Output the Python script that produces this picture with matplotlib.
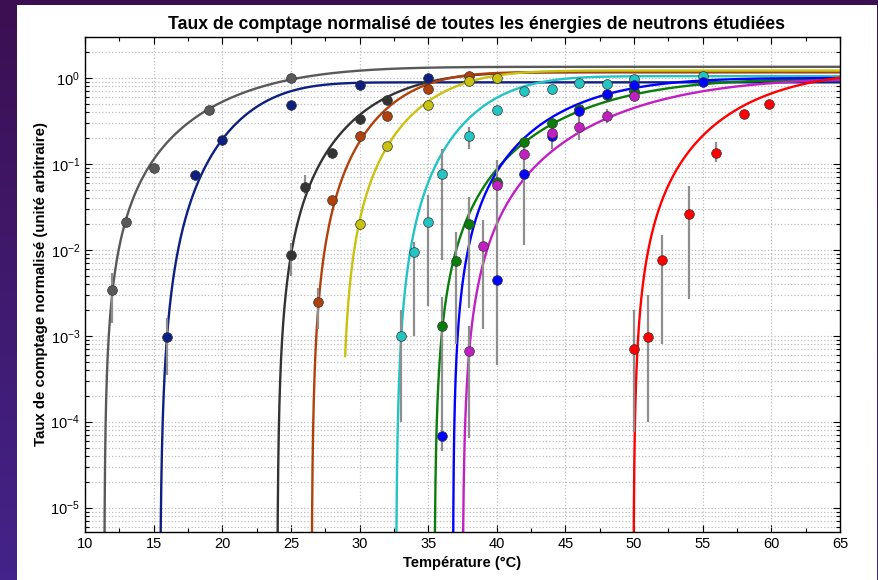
import numpy as np
import matplotlib
matplotlib.use('Agg')
import matplotlib.pyplot as plt
from matplotlib.patches import Rectangle
from matplotlib.colors import LinearSegmentedColormap
from matplotlib.ticker import LogLocator, MultipleLocator, NullFormatter

plt.rcParams['font.family'] = ['Liberation Sans', 'DejaVu Sans']
plt.rcParams['mathtext.default'] = 'regular'

# measured points, one list per neutron energy
names = ['gris', 'marine', 'noir', 'brun', 'jaune', 'cyan', 'vert', 'bleu', 'magenta', 'rouge']
colors = ['#595959', '#0d2080', '#333333', '#b0400c', '#c9c20f',
          '#22c4c4', '#0a7d0a', '#0000ff', '#c21fc2', '#ff0000']

temp_gris = [12, 13, 15, 19, 25]
taux_gris = [0.0034, 0.021, 0.09, 0.42, 1.0]
temp_marine = [16, 18, 20, 25, 30, 35]
taux_marine = [0.00098, 0.074, 0.19, 0.49, 0.84, 1.0]
temp_noir = [25, 26, 28, 30, 32]
taux_noir = [0.0088, 0.054, 0.133, 0.33, 0.56]
temp_brun = [27, 28, 30, 32, 35, 38]
taux_brun = [0.0025, 0.038, 0.21, 0.36, 0.74, 1.05]
temp_jaune = [30, 32, 35, 38, 40]
taux_jaune = [0.020, 0.16, 0.48, 0.93, 1.0]
temp_cyan = [33, 34, 35, 36, 38, 40, 42, 44, 46, 48, 50, 55]
taux_cyan = [0.001, 0.0095, 0.021, 0.076, 0.21, 0.42, 0.70, 0.74, 0.88, 0.86, 0.98, 1.05]
temp_vert = [36, 37, 38, 40, 42, 44, 46, 48, 50]
taux_vert = [0.0013, 0.0075, 0.020, 0.062, 0.18, 0.30, 0.43, 0.63, 0.71]
temp_bleu = [36, 40, 42, 44, 46, 48, 50, 55]
taux_bleu = [6.8e-5, 0.0045, 0.077, 0.21, 0.41, 0.65, 0.83, 0.90]
temp_magenta = [38, 39, 40, 42, 44, 46, 48, 50]
taux_magenta = [0.00066, 0.011, 0.057, 0.13, 0.23, 0.27, 0.36, 0.61]
temp_rouge = [50, 51, 52, 54, 56, 58, 59.8]
taux_rouge = [0.0007, 0.00098, 0.0077, 0.026, 0.135, 0.38, 0.50]

temps = [temp_gris, temp_marine, temp_noir, temp_brun, temp_jaune,
         temp_cyan, temp_vert, temp_bleu, temp_magenta, temp_rouge]
taux = [taux_gris, taux_marine, taux_noir, taux_brun, taux_jaune,
        taux_cyan, taux_vert, taux_bleu, taux_magenta, taux_rouge]

# error bars: temperature, low, high
err_t = [12, 16, 25, 26, 27, 33, 34, 35, 36, 38, 36, 36, 37, 38, 38, 39, 40, 42, 44, 46, 48,
         50, 51, 52, 54, 56]
err_lo = [0.0014, 0.00035, 0.005, 0.045, 0.0012, 1e-4, 0.001, 0.0022, 0.0077, 0.15, 0.00045, 4.5e-5,
          0.0008, 0.0021, 6.5e-5, 0.0012, 4.6e-4, 0.0115, 0.15, 0.19, 0.30,
          7.5e-5, 1e-4, 0.0008, 0.0027, 0.105]
err_hi = [0.0054, 0.0016, 0.012, 0.075, 0.0036, 0.002, 0.0125, 0.043, 0.15, 0.27, 0.0028, 4.5e-4,
          0.016, 0.041, 0.0013, 0.0225, 0.11, 0.20, 0.30, 0.36, 0.44,
          0.002, 0.003, 0.015, 0.055, 0.18]

# Weibull fit parameters: saturation, threshold, width, shape, first temperature drawn
fit_A = [1.35, 0.89, 1.17, 1.17, 1.22, 1.05, 0.98, 1.0, 1.0, 1.2]
fit_T0 = [11.4, 15.45, 24.0, 26.5, 28.7, 32.65, 35.45, 36.8, 37.5, 49.95]
fit_W = [12.2, 8.0, 9.3, 7.6, 8.1, 8.0, 14.1, 11.0, 16.0, 11.2]
fit_s = [2.0, 2.5, 2.2, 2.3, 2.2, 2.3, 2.1, 2.0, 2.1, 2.05]
fit_start = [11.4, 15.45, 24.0, 26.5, 28.95, 32.65, 35.45, 36.8, 37.5, 49.95]


def weibull(t, A, t0, w, s):
    return A * (1 - np.exp(-((t - t0) / w) ** s))


fig = plt.figure(figsize=(8.79, 5.80), dpi=100)

# purple slide background with the white plot card on top
bg = fig.add_axes([0, 0, 1, 1], zorder=-10)
cmap = LinearSegmentedColormap.from_list('fond', ['#3c0f52', '#3f1a6e', '#44238a'])
bg.imshow(np.linspace(0, 1, 100).reshape(-1, 1), aspect='auto', cmap=cmap,
          extent=[0, 1, 0, 1])
bg.add_patch(Rectangle((17 / 879, 0), 860 / 879, 575 / 580, facecolor='white',
                       edgecolor='none'))
bg.set_xlim(0, 1)
bg.set_ylim(0, 1)
bg.axis('off')

ax = fig.add_axes([85 / 879, 48 / 580, 755 / 879, 495 / 580])

for i in range(len(names)):
    t = fit_start[i] + (65 - fit_start[i]) * np.linspace(0, 1, 3000) ** 3
    y = weibull(t, fit_A[i], fit_T0[i], fit_W[i], fit_s[i])
    y[y <= 0] = 1e-30
    ax.plot(t, y, '-', color=colors[i], lw=1.7, zorder=2)

ax.vlines(err_t, err_lo, err_hi, color='#8e8e8e', lw=1.6, zorder=3)

for i in range(len(names)):
    ax.plot(temps[i], taux[i], 'o', color=colors[i], markersize=7,
            markeredgecolor='#333333', markeredgewidth=0.5, zorder=4)

ax.set_yscale('log')
ax.set_xlim(10, 65)
ax.set_ylim(5.2e-6, 3.0)
ax.xaxis.set_major_locator(MultipleLocator(5))
ax.xaxis.set_minor_locator(MultipleLocator(2.5))
ax.yaxis.set_major_locator(LogLocator(base=10, numticks=10))
ax.yaxis.set_minor_locator(LogLocator(base=10, subs=np.arange(2, 10), numticks=20))
ax.yaxis.set_minor_formatter(NullFormatter())

ax.tick_params(which='both', direction='in', top=True, right=True, labelsize=10.5,
               width=0.8, colors='black')
ax.tick_params(which='major', length=5)
ax.tick_params(which='minor', length=3)

ax.grid(True, which='major', axis='x', linestyle=':', color='#bdbdbd', lw=0.9)
ax.grid(True, which='both', axis='y', linestyle=':', color='#bdbdbd', lw=0.9)
ax.set_axisbelow(True)
for sp in ax.spines.values():
    sp.set_linewidth(1.0)

ax.set_title('Taux de comptage normalisé de toutes les énergies de neutrons étudiées',
             fontsize=12.7, fontweight='bold', pad=6, x=0.518)
ax.set_xlabel('Température (°C)', fontsize=10.5, fontweight='bold', labelpad=4)
ax.set_ylabel('Taux de comptage normalisé (unité arbitraire)', fontsize=10.8,
              fontweight='bold', labelpad=2)

fig.savefig('out.png', dpi=100)
